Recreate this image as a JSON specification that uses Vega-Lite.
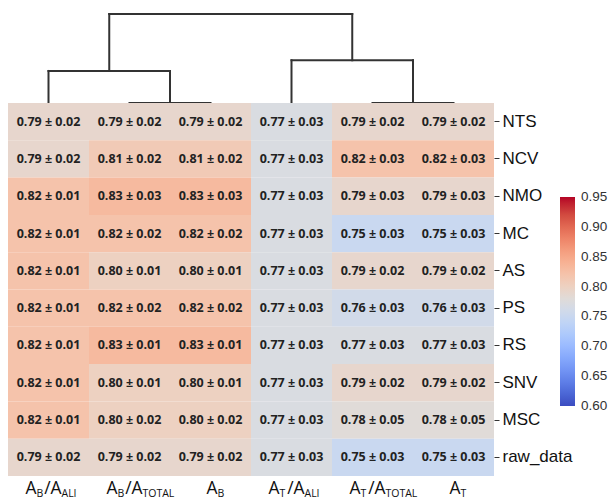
{
  "$schema": "https://vega.github.io/schema/vega-lite/v6.json",
  "padding": {"left": 8, "top": 12, "right": 0, "bottom": 0},
  "background": "white",
  "spacing": 0,
  "bounds": "flush",
  "config": {"view": {"stroke": null}, "font": "Liberation Sans"},
  "datasets": {
    "linkage": [
      {"x_start": 1.5, "x_end": 2.5, "h_start": 0, "h_end": 0},
      {"x_start": 0.5, "x_end": 0.5, "h_start": 0, "h_end": 0.36},
      {"x_start": 2.0, "x_end": 2.0, "h_start": 0, "h_end": 0.36},
      {"x_start": 0.5, "x_end": 2.0, "h_start": 0.36, "h_end": 0.36},
      {"x_start": 4.5, "x_end": 5.5, "h_start": 0, "h_end": 0},
      {"x_start": 3.5, "x_end": 3.5, "h_start": 0, "h_end": 0.48},
      {"x_start": 5.0, "x_end": 5.0, "h_start": 0, "h_end": 0.48},
      {"x_start": 3.5, "x_end": 5.0, "h_start": 0.48, "h_end": 0.48},
      {"x_start": 1.25, "x_end": 1.25, "h_start": 0.36, "h_end": 1},
      {"x_start": 4.25, "x_end": 4.25, "h_start": 0.48, "h_end": 1},
      {"x_start": 1.25, "x_end": 4.25, "h_start": 1, "h_end": 1}
    ],
    "ticklabels": [
      {"feature": "A_B/A_ALI", "base1": "A", "sub1": "B", "base2": "/A", "sub2": "ALI"},
      {"feature": "A_B/A_TOTAL", "base1": "A", "sub1": "B", "base2": "/A", "sub2": "TOTAL"},
      {"feature": "A_B", "base1": "A", "sub1": "B"},
      {"feature": "A_T/A_ALI", "base1": "A", "sub1": "T", "base2": "/A", "sub2": "ALI"},
      {"feature": "A_T/A_TOTAL", "base1": "A", "sub1": "T", "base2": "/A", "sub2": "TOTAL"},
      {"feature": "A_T", "base1": "A", "sub1": "T"}
    ],
    "scores": [
      {"method": "NTS", "feature": "A_B/A_ALI", "mean": 0.79, "sd": 0.02},
      {"method": "NTS", "feature": "A_B/A_TOTAL", "mean": 0.79, "sd": 0.02},
      {"method": "NTS", "feature": "A_B", "mean": 0.79, "sd": 0.02},
      {"method": "NTS", "feature": "A_T/A_ALI", "mean": 0.77, "sd": 0.03},
      {"method": "NTS", "feature": "A_T/A_TOTAL", "mean": 0.79, "sd": 0.02},
      {"method": "NTS", "feature": "A_T", "mean": 0.79, "sd": 0.02},
      {"method": "NCV", "feature": "A_B/A_ALI", "mean": 0.79, "sd": 0.02},
      {"method": "NCV", "feature": "A_B/A_TOTAL", "mean": 0.81, "sd": 0.02},
      {"method": "NCV", "feature": "A_B", "mean": 0.81, "sd": 0.02},
      {"method": "NCV", "feature": "A_T/A_ALI", "mean": 0.77, "sd": 0.03},
      {"method": "NCV", "feature": "A_T/A_TOTAL", "mean": 0.82, "sd": 0.03},
      {"method": "NCV", "feature": "A_T", "mean": 0.82, "sd": 0.03},
      {"method": "NMO", "feature": "A_B/A_ALI", "mean": 0.82, "sd": 0.01},
      {"method": "NMO", "feature": "A_B/A_TOTAL", "mean": 0.83, "sd": 0.03},
      {"method": "NMO", "feature": "A_B", "mean": 0.83, "sd": 0.03},
      {"method": "NMO", "feature": "A_T/A_ALI", "mean": 0.77, "sd": 0.03},
      {"method": "NMO", "feature": "A_T/A_TOTAL", "mean": 0.79, "sd": 0.03},
      {"method": "NMO", "feature": "A_T", "mean": 0.79, "sd": 0.03},
      {"method": "MC", "feature": "A_B/A_ALI", "mean": 0.82, "sd": 0.01},
      {"method": "MC", "feature": "A_B/A_TOTAL", "mean": 0.82, "sd": 0.02},
      {"method": "MC", "feature": "A_B", "mean": 0.82, "sd": 0.02},
      {"method": "MC", "feature": "A_T/A_ALI", "mean": 0.77, "sd": 0.03},
      {"method": "MC", "feature": "A_T/A_TOTAL", "mean": 0.75, "sd": 0.03},
      {"method": "MC", "feature": "A_T", "mean": 0.75, "sd": 0.03},
      {"method": "AS", "feature": "A_B/A_ALI", "mean": 0.82, "sd": 0.01},
      {"method": "AS", "feature": "A_B/A_TOTAL", "mean": 0.80, "sd": 0.01},
      {"method": "AS", "feature": "A_B", "mean": 0.80, "sd": 0.01},
      {"method": "AS", "feature": "A_T/A_ALI", "mean": 0.77, "sd": 0.03},
      {"method": "AS", "feature": "A_T/A_TOTAL", "mean": 0.79, "sd": 0.02},
      {"method": "AS", "feature": "A_T", "mean": 0.79, "sd": 0.02},
      {"method": "PS", "feature": "A_B/A_ALI", "mean": 0.82, "sd": 0.01},
      {"method": "PS", "feature": "A_B/A_TOTAL", "mean": 0.82, "sd": 0.02},
      {"method": "PS", "feature": "A_B", "mean": 0.82, "sd": 0.02},
      {"method": "PS", "feature": "A_T/A_ALI", "mean": 0.77, "sd": 0.03},
      {"method": "PS", "feature": "A_T/A_TOTAL", "mean": 0.76, "sd": 0.03},
      {"method": "PS", "feature": "A_T", "mean": 0.76, "sd": 0.03},
      {"method": "RS", "feature": "A_B/A_ALI", "mean": 0.82, "sd": 0.01},
      {"method": "RS", "feature": "A_B/A_TOTAL", "mean": 0.83, "sd": 0.01},
      {"method": "RS", "feature": "A_B", "mean": 0.83, "sd": 0.01},
      {"method": "RS", "feature": "A_T/A_ALI", "mean": 0.77, "sd": 0.03},
      {"method": "RS", "feature": "A_T/A_TOTAL", "mean": 0.77, "sd": 0.03},
      {"method": "RS", "feature": "A_T", "mean": 0.77, "sd": 0.03},
      {"method": "SNV", "feature": "A_B/A_ALI", "mean": 0.82, "sd": 0.01},
      {"method": "SNV", "feature": "A_B/A_TOTAL", "mean": 0.80, "sd": 0.01},
      {"method": "SNV", "feature": "A_B", "mean": 0.80, "sd": 0.01},
      {"method": "SNV", "feature": "A_T/A_ALI", "mean": 0.77, "sd": 0.03},
      {"method": "SNV", "feature": "A_T/A_TOTAL", "mean": 0.79, "sd": 0.02},
      {"method": "SNV", "feature": "A_T", "mean": 0.79, "sd": 0.02},
      {"method": "MSC", "feature": "A_B/A_ALI", "mean": 0.82, "sd": 0.01},
      {"method": "MSC", "feature": "A_B/A_TOTAL", "mean": 0.80, "sd": 0.02},
      {"method": "MSC", "feature": "A_B", "mean": 0.80, "sd": 0.02},
      {"method": "MSC", "feature": "A_T/A_ALI", "mean": 0.77, "sd": 0.03},
      {"method": "MSC", "feature": "A_T/A_TOTAL", "mean": 0.78, "sd": 0.05},
      {"method": "MSC", "feature": "A_T", "mean": 0.78, "sd": 0.05},
      {"method": "raw_data", "feature": "A_B/A_ALI", "mean": 0.79, "sd": 0.02},
      {"method": "raw_data", "feature": "A_B/A_TOTAL", "mean": 0.79, "sd": 0.02},
      {"method": "raw_data", "feature": "A_B", "mean": 0.79, "sd": 0.02},
      {"method": "raw_data", "feature": "A_T/A_ALI", "mean": 0.77, "sd": 0.03},
      {"method": "raw_data", "feature": "A_T/A_TOTAL", "mean": 0.75, "sd": 0.03},
      {"method": "raw_data", "feature": "A_T", "mean": 0.75, "sd": 0.03}
    ]
  },
  "vconcat": [
    {
      "width": 486,
      "height": 89,
      "data": {"name": "linkage"},
      "mark": {"type": "rule", "color": "#333333", "strokeWidth": 2, "strokeCap": "square"},
      "encoding": {
        "x": {"field": "x_start", "type": "quantitative", "scale": {"domain": [0, 6], "nice": false, "zero": false}, "axis": null},
        "x2": {"field": "x_end"},
        "y": {"field": "h_start", "type": "quantitative", "scale": {"domain": [0, 1], "nice": false}, "axis": null},
        "y2": {"field": "h_end"}
      }
    },
    {
      "width": 486,
      "height": 373,
      "layer": [
        {
          "data": {"name": "scores"},
          "mark": {"type": "rect"},
          "encoding": {
            "x": {"field": "feature", "type": "nominal", "sort": ["A_B/A_ALI", "A_B/A_TOTAL", "A_B", "A_T/A_ALI", "A_T/A_TOTAL", "A_T"], "axis": null},
            "y": {
              "field": "method", "type": "nominal",
              "sort": ["NTS", "NCV", "NMO", "MC", "AS", "PS", "RS", "SNV", "MSC", "raw_data"],
              "axis": {"orient": "right", "title": null, "domain": false, "ticks": true, "tickSize": 5, "tickColor": "#333333", "tickWidth": 1, "labelFont": "Liberation Sans", "labelFontSize": 17, "labelColor": "#111111", "labelPadding": 3}
            },
            "color": {
              "field": "mean", "type": "quantitative",
              "scale": {
                "domain": [0.6, 0.621875, 0.64375, 0.665625, 0.6875, 0.709375, 0.73125, 0.753125, 0.775, 0.796875, 0.81875, 0.840625, 0.8625, 0.884375, 0.90625, 0.928125, 0.95],
                "range": ["#3b4cc0", "#4d68d7", "#6282ea", "#779af7", "#8db0fe", "#a3c2ff", "#b8d0f9", "#ccd9ee", "#dddddd", "#ecd3c5", "#f5c4ac", "#f7b193", "#f49a7b", "#ec7f63", "#de604d", "#cb3e38", "#b40426"],
                "interpolate": "rgb"
              },
              "legend": {
                "orient": "none", "legendX": 552, "legendY": 183, "direction": "vertical",
                "title": null, "gradientLength": 209, "gradientThickness": 15, "gradientStrokeWidth": 0,
                "values": [0.6, 0.65, 0.7, 0.75, 0.8, 0.85, 0.9, 0.95], "format": ".2f",
                "labelFont": "Liberation Sans", "labelFontSize": 13.5, "labelColor": "#333333",
                "labelOffset": 6, "labelBaseline": "middle", "labelOverlap": false,
                "encoding": {"labels": {"baseline": {"value": "middle"}}}
              }
            }
          }
        },
        {
          "data": {"name": "scores"},
          "mark": {"type": "text", "font": "Open Sans", "fontWeight": "bold", "fontSize": 12.5, "color": "#222222", "align": "right", "baseline": "middle", "dx": -6.8},
          "encoding": {
            "x": {"field": "feature", "type": "nominal", "sort": ["A_B/A_ALI", "A_B/A_TOTAL", "A_B", "A_T/A_ALI", "A_T/A_TOTAL", "A_T"]},
            "y": {"field": "method", "type": "nominal", "sort": ["NTS", "NCV", "NMO", "MC", "AS", "PS", "RS", "SNV", "MSC", "raw_data"]},
            "text": {"field": "mean", "type": "quantitative", "format": ".2f"}
          }
        },
        {
          "data": {"name": "scores"},
          "mark": {"type": "text", "font": "Open Sans", "fontWeight": "bold", "fontSize": 12.5, "color": "#222222", "align": "center", "baseline": "middle"},
          "encoding": {
            "x": {"field": "feature", "type": "nominal", "sort": ["A_B/A_ALI", "A_B/A_TOTAL", "A_B", "A_T/A_ALI", "A_T/A_TOTAL", "A_T"]},
            "y": {"field": "method", "type": "nominal", "sort": ["NTS", "NCV", "NMO", "MC", "AS", "PS", "RS", "SNV", "MSC", "raw_data"]},
            "text": {"value": "±"}
          }
        },
        {
          "data": {"name": "scores"},
          "mark": {"type": "text", "font": "Open Sans", "fontWeight": "bold", "fontSize": 12.5, "color": "#222222", "align": "left", "baseline": "middle", "dx": 6.8},
          "encoding": {
            "x": {"field": "feature", "type": "nominal", "sort": ["A_B/A_ALI", "A_B/A_TOTAL", "A_B", "A_T/A_ALI", "A_T/A_TOTAL", "A_T"]},
            "y": {"field": "method", "type": "nominal", "sort": ["NTS", "NCV", "NMO", "MC", "AS", "PS", "RS", "SNV", "MSC", "raw_data"]},
            "text": {"field": "sd", "type": "quantitative", "format": ".2f"}
          }
        },
        {
          "data": {"name": "ticklabels"},
          "transform": [{"filter": "datum.base2 != null"}],
          "mark": {"type": "text", "font": "Open Sans", "fontSize": 17.4, "color": "#111111", "align": "right", "baseline": "alphabetic", "y": "height", "dy": 18, "dx": -12},
          "encoding": {
            "x": {"field": "feature", "type": "nominal", "sort": ["A_B/A_ALI", "A_B/A_TOTAL", "A_B", "A_T/A_ALI", "A_T/A_TOTAL", "A_T"]},
            "text": {"field": "base1", "type": "nominal"}
          }
        },
        {
          "data": {"name": "ticklabels"},
          "transform": [{"filter": "datum.base2 != null"}],
          "mark": {"type": "text", "font": "Open Sans", "fontSize": 10.5, "color": "#111111", "align": "left", "baseline": "alphabetic", "y": "height", "dy": 20.5, "dx": -12},
          "encoding": {
            "x": {"field": "feature", "type": "nominal", "sort": ["A_B/A_ALI", "A_B/A_TOTAL", "A_B", "A_T/A_ALI", "A_T/A_TOTAL", "A_T"]},
            "text": {"field": "sub1", "type": "nominal"}
          }
        },
        {
          "data": {"name": "ticklabels"},
          "transform": [{"filter": "datum.base2 != null"}],
          "mark": {"type": "text", "font": "Open Sans", "fontSize": 17.4, "color": "#111111", "align": "right", "baseline": "alphabetic", "y": "height", "dy": 18, "dx": 13},
          "encoding": {
            "x": {"field": "feature", "type": "nominal", "sort": ["A_B/A_ALI", "A_B/A_TOTAL", "A_B", "A_T/A_ALI", "A_T/A_TOTAL", "A_T"]},
            "text": {"field": "base2", "type": "nominal"}
          }
        },
        {
          "data": {"name": "ticklabels"},
          "transform": [{"filter": "datum.base2 != null"}],
          "mark": {"type": "text", "font": "Open Sans", "fontSize": 10.5, "color": "#111111", "align": "left", "baseline": "alphabetic", "y": "height", "dy": 20.5, "dx": 13},
          "encoding": {
            "x": {"field": "feature", "type": "nominal", "sort": ["A_B/A_ALI", "A_B/A_TOTAL", "A_B", "A_T/A_ALI", "A_T/A_TOTAL", "A_T"]},
            "text": {"field": "sub2", "type": "nominal"}
          }
        },
        {
          "data": {"name": "ticklabels"},
          "transform": [{"filter": "datum.base2 == null"}],
          "mark": {"type": "text", "font": "Open Sans", "fontSize": 17.4, "color": "#111111", "align": "right", "baseline": "alphabetic", "y": "height", "dy": 18, "dx": 7},
          "encoding": {
            "x": {"field": "feature", "type": "nominal", "sort": ["A_B/A_ALI", "A_B/A_TOTAL", "A_B", "A_T/A_ALI", "A_T/A_TOTAL", "A_T"]},
            "text": {"field": "base1", "type": "nominal"}
          }
        },
        {
          "data": {"name": "ticklabels"},
          "transform": [{"filter": "datum.base2 == null"}],
          "mark": {"type": "text", "font": "Open Sans", "fontSize": 10.5, "color": "#111111", "align": "left", "baseline": "alphabetic", "y": "height", "dy": 20.5, "dx": 7},
          "encoding": {
            "x": {"field": "feature", "type": "nominal", "sort": ["A_B/A_ALI", "A_B/A_TOTAL", "A_B", "A_T/A_ALI", "A_T/A_TOTAL", "A_T"]},
            "text": {"field": "sub1", "type": "nominal"}
          }
        }
      ]
    }
  ]
}
